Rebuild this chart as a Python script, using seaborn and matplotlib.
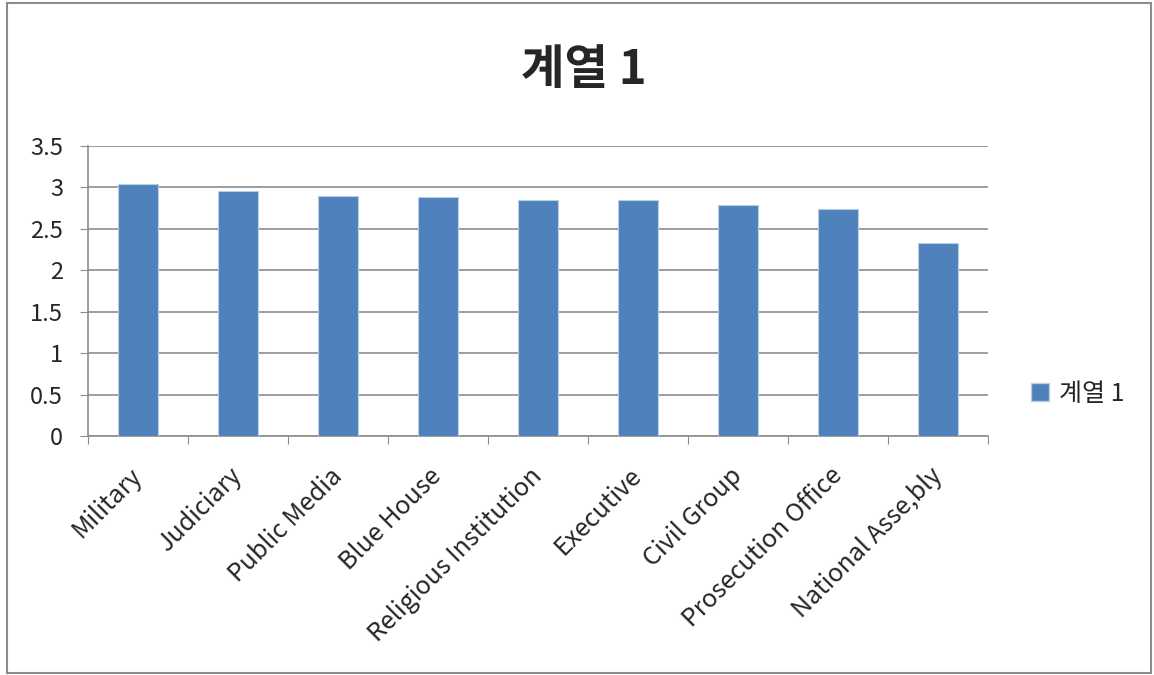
import pandas as pd
import matplotlib
matplotlib.use("Agg")
import matplotlib.pyplot as plt
import seaborn as sns
from matplotlib.patches import Rectangle, Patch

categories = ["Military", "Judiciary", "Public Media", "Blue House", "Religious Institution",
              "Executive", "Civil Group", "Prosecution Office", "National Asse,bly"]
values = [3.04, 2.96, 2.90, 2.89, 2.85, 2.85, 2.79, 2.74, 2.33]
series_name = "계열 1"

df = pd.DataFrame({"category": categories, "value": values})

sns.set_style("white")
plt.rcParams["font.family"] = ["Noto Sans CJK KR", "DejaVu Sans"]

fig = plt.figure(figsize=(11.54, 6.75), dpi=100)
ax = fig.add_axes([88 / 1154, 1 - 436 / 675, 900 / 1154, 290 / 675])

sns.barplot(x="category", y="value", data=df, color="#4F81BD", saturation=1, width=0.4,
            edgecolor="#B9CDE5", linewidth=0.8, ax=ax, zorder=3)

ax.set_ylim(0, 3.5)
ax.set_xlim(-0.5, len(categories) - 0.5)
ax.set_yticks([0, 0.5, 1, 1.5, 2, 2.5, 3, 3.5])
ax.set_yticklabels(["0", "0.5", "1", "1.5", "2", "2.5", "3", "3.5"], fontsize=17)
ax.yaxis.grid(True, color="#8C8C8C", linewidth=1.2, zorder=0)
ax.set_axisbelow(True)

# category boundary ticks
ax.set_xticks([i - 0.5 for i in range(len(categories) + 1)], minor=False)
ax.set_xticklabels([])
ax.set_xticks(range(len(categories)), minor=True)
ax.set_xticklabels(categories, minor=True, rotation=45, ha="right", va="center",
                   rotation_mode="anchor", fontsize=18)
ax.tick_params(axis="x", which="major", length=6, color="#8C8C8C", direction="out", bottom=True)
ax.tick_params(axis="x", which="minor", length=0, pad=26)
ax.tick_params(axis="y", length=6, color="#8C8C8C", direction="out", left=True, pad=12)

for side in ["top", "right"]:
    ax.spines[side].set_visible(False)
for side in ["left", "bottom"]:
    ax.spines[side].set_color("#8C8C8C")
    ax.spines[side].set_linewidth(1.2)

ax.set_xlabel("")
ax.set_ylabel("")

fig.text(584 / 1154, 1 - 70 / 675, series_name, ha="center", va="center",
         fontsize=34, fontweight="bold")

handle = Patch(facecolor="#4F81BD", edgecolor="#B9CDE5", label=series_name)
fig.legend(handles=[handle], loc="center left", bbox_to_anchor=(1008 / 1154, 1 - 394 / 675),
           frameon=False, fontsize=18, handlelength=0.75, handleheight=0.75, handletextpad=0.4)

fig.patches.append(Rectangle((7 / 1154, 2 / 675), 1144 / 1154, 670 / 675,
                             transform=fig.transFigure, fill=False,
                             edgecolor="#8C8C8C", linewidth=1.5))

fig.savefig("out.png", dpi=100)
